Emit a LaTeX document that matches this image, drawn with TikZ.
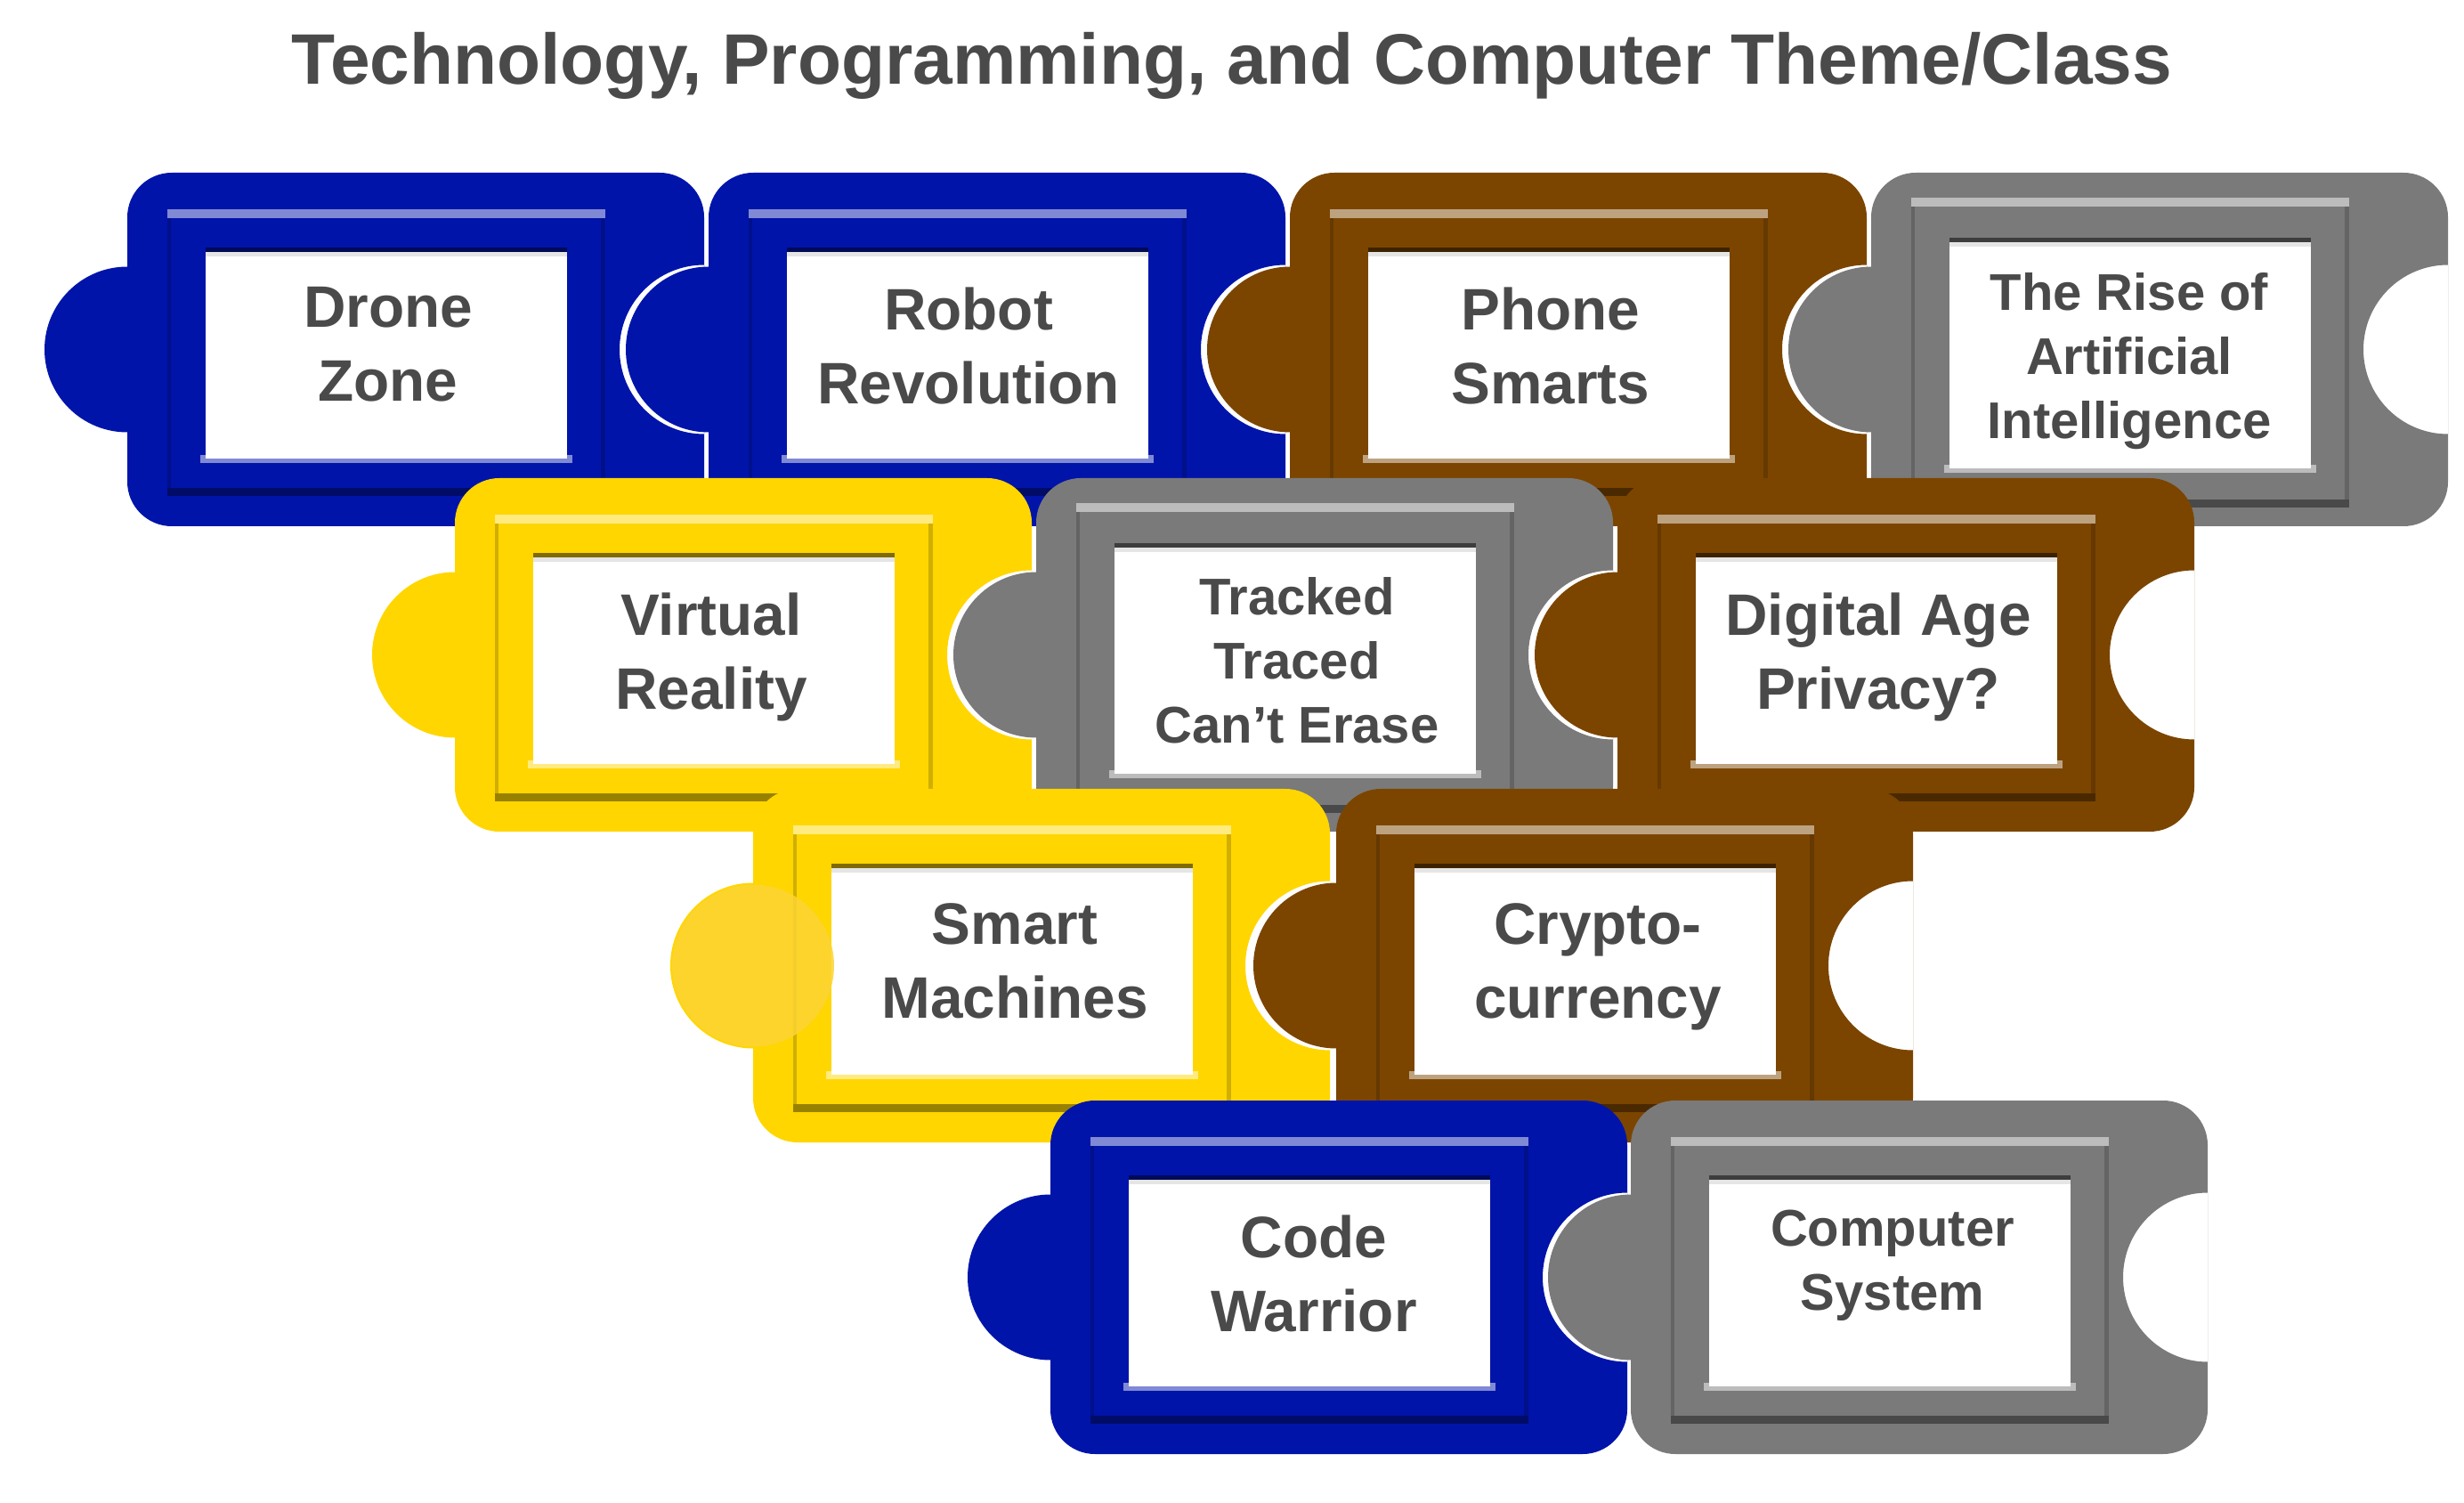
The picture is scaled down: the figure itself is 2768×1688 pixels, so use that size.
\documentclass[tikz,border=0pt]{standalone}
\usepackage{fontspec}
\setmainfont{Liberation Sans}
\usepackage{tikz}
\usepackage{xcolor}
\definecolor{tileblue}{RGB}{0,20,170}
\definecolor{tilebrown}{RGB}{123,69,0}
\definecolor{tilegray}{RGB}{122,122,122}
\definecolor{tileyellow}{RGB}{255,214,0}
\definecolor{bumpyellow}{RGB}{253,212,52}
\definecolor{textgray}{RGB}{74,74,74}

% #1 left, #2 top, #3 colour, #4 frame inset, #5 box inset
\newcommand{\puzzle}[5]{%
  \begin{scope}
    \clip ({#1-95},#2) rectangle ({#1+648},{#2+397});
    \fill[#3, even odd rule, rounded corners=5mm] (#1,#2) rectangle ({#1+648},{#2+397})
      ({#1+648},{#2+198.5}) circle[radius=9.5mm];
  \end{scope}
  \fill[#3] (#1,{#2+198.5}) circle[radius=9.3mm];
  % frame
  \fill[#3!50!white] ({#1+45},{#2+#4}) rectangle ({#1+537},{#2+#4+10});
  \fill[#3!60!black] ({#1+45},{#2+395-#4}) rectangle ({#1+537},{#2+404-#4});
  \fill[#3!82!black] ({#1+45},{#2+#4+10}) rectangle ({#1+49},{#2+395-#4});
  \fill[#3!82!black] ({#1+532},{#2+#4+10}) rectangle ({#1+537},{#2+395-#4});
  % label box
  \fill[#3!50!white] ({#1+82},{#2+401-#5}) rectangle ({#1+500},{#2+410-#5});
  \fill[white] ({#1+88},{#2+#5}) rectangle ({#1+494},{#2+405-#5});
  \fill[#3!50!black] ({#1+88},{#2+#5}) rectangle ({#1+494},{#2+#5+5});
  \fill[black!10] ({#1+88},{#2+#5+5}) rectangle ({#1+494},{#2+#5+10});
}

\begin{document}
\begin{tikzpicture}[x=0.1mm, y=-0.1mm,
  biglabel/.style={anchor=north, inner sep=0pt, align=center, text=textgray,
    font=\bfseries\fontsize{18.7}{23.6}\selectfont},
  smalllabel/.style={anchor=north, inner sep=0pt, align=center, text=textgray,
    font=\bfseries\fontsize{16.5}{20.5}\selectfont}]
  \useasboundingbox (0,0) rectangle (2768,1688);

  \node[anchor=base, text=textgray, font=\bfseries\fontsize{22.85}{28}\selectfont] (title) at (1384,95)
    {Technology, Programming, and Computer Theme/Class};

  % row 1
  \puzzle{143}{194}{tileblue}{41}{84}
  \puzzle{796}{194}{tileblue}{41}{84}
  \puzzle{1449}{194}{tilebrown}{41}{84}
  \puzzle{2102}{194}{tilegray}{28}{73}
  \node[biglabel] (drone) at (436,322) {Drone\\Zone};
  \node[biglabel] (robot) at (1088,322) {Robot\\Revolution};
  \node[biglabel] (phone) at (1742,322) {Phone\\Smarts};
  \node[smalllabel] (rise) at (2392,306) {The Rise of\\Artificial\\Intelligence};

  % row 2
  \puzzle{511}{537}{tileyellow}{41}{84}
  \puzzle{1164}{537}{tilegray}{28}{73}
  \puzzle{1817}{537}{tilebrown}{41}{84}
  \node[biglabel] (virtual) at (799,665) {Virtual\\Reality};
  \node[smalllabel] (tracked) at (1457,648) {Tracked\\Traced\\Can't Erase};
  \node[biglabel] (digital) at (2110,665) {Digital Age\\Privacy?};

  % row 3
  \puzzle{846}{886}{tileyellow}{41}{84}
  \fill[bumpyellow, fill opacity=.85] (846,1084.5) circle[radius=9.1mm];
  \puzzle{1501}{886}{tilebrown}{41}{84}
  \node[biglabel] (smart) at (1140,1014) {Smart\\Machines};
  \node[biglabel] (crypto) at (1795,1014) {Crypto-\\currency};

  % row 4
  \puzzle{1180}{1236}{tileblue}{41}{84}
  \puzzle{1832}{1236}{tilegray}{41}{84}
  \node[biglabel] (code) at (1476,1364) {Code\\Warrior};
  \node[smalllabel] (computer) at (2126,1358) {Computer\\System};
\end{tikzpicture}
\end{document}
